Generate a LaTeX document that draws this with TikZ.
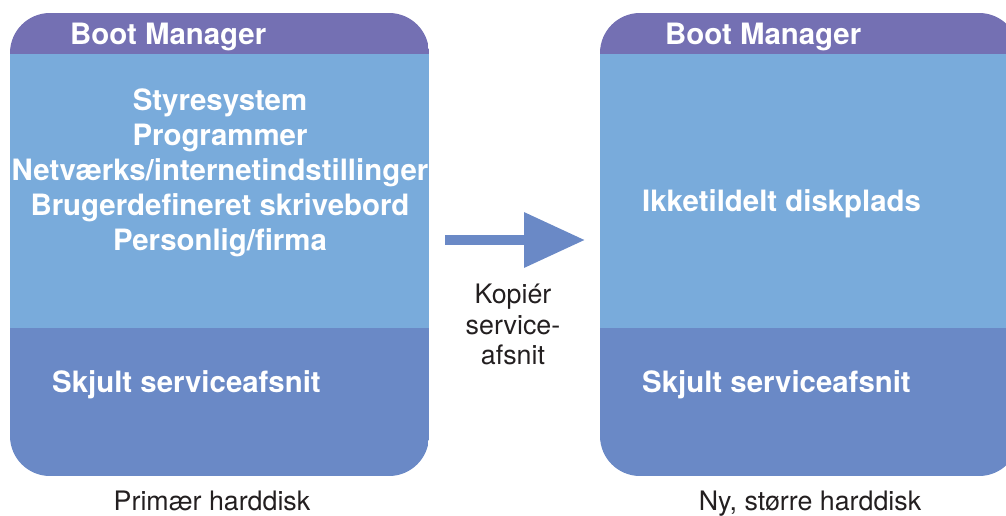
\documentclass[tikz,border=0pt]{standalone}
\usepackage{fontspec}
\setmainfont{TeX Gyre Heros}
\usetikzlibrary{arrows.meta}

\definecolor{bootpurple}{RGB}{116,112,179}
\definecolor{syslight}{RGB}{121,171,219}
\definecolor{hiddark}{RGB}{106,137,198}
\definecolor{inkblack}{RGB}{35,31,32}

\begin{document}
\begin{tikzpicture}[
    x=1pt, y=-1pt,
    disktext/.style={text=white, inner sep=0pt, align=center,
        font=\fontsize{29.4}{34.8}\selectfont\bfseries},
    caption/.style={text=inkblack, inner sep=0pt, align=center,
        font=\fontsize{26.8}{30.5}\selectfont},
    copyarrow/.style={draw=hiddark, line width=10pt,
        -{Triangle[length=61pt, width=53pt]}}
]
    \useasboundingbox (0,0) rectangle (1006,516);
    \clip (0,0) rectangle (1006,516);

    % --- Disk 1 (Left) ---
    \begin{scope}[shift={(10,0)}]
        \begin{scope}
            \clip[rounded corners=40pt] (0,13) rectangle (419,476);
            \fill[bootpurple] (0,13) rectangle (419,54);
            \fill[syslight]   (0,54) rectangle (419,328);
            \fill[hiddark]    (0,328) rectangle (419,476);
        \end{scope}
        \coordinate (E1) at (419,240);

        \node[disktext, anchor=base west] (boot1) at (60,45) {Boot Manager};
        \node[disktext, anchor=north] (sys1) at (210,89) {Styresystem\\Programmer\\Netværks/internetindstillinger\\Brugerdefineret skrivebord\\Personlig/firma};
        \node[disktext, anchor=base west] (hid1) at (42,392) {Skjult serviceafsnit};
        \node[caption, anchor=base] (cap1) at (202,510) {Primær harddisk};
    \end{scope}

    % --- Disk 2 (Right) ---
    \begin{scope}[shift={(600,0)}]
        \begin{scope}
            \clip[rounded corners=40pt] (0,13) rectangle (419,476);
            \fill[bootpurple] (0,13) rectangle (419,54);
            \fill[syslight]   (0,54) rectangle (419,328);
            \fill[hiddark]    (0,328) rectangle (419,476);
        \end{scope}
        \coordinate (W2) at (0,240);

        \node[disktext, anchor=base west] (boot2) at (65,45) {Boot Manager};
        \node[disktext, anchor=base west] (free2) at (42,211) {Ikketildelt diskplads};
        \node[disktext, anchor=base west] (hid2) at (42,392) {Skjult serviceafsnit};
        \node[caption, anchor=base] (cap2) at (210,510) {Ny, større harddisk};
    \end{scope}

    % --- Copy arrow ---
    \draw[copyarrow, shorten <=16pt, shorten >=15pt] (E1) -- (W2);
    \node[caption, anchor=north] (copy) at (513,284) {Kopiér\\service-\\afsnit};

\end{tikzpicture}
\end{document}
